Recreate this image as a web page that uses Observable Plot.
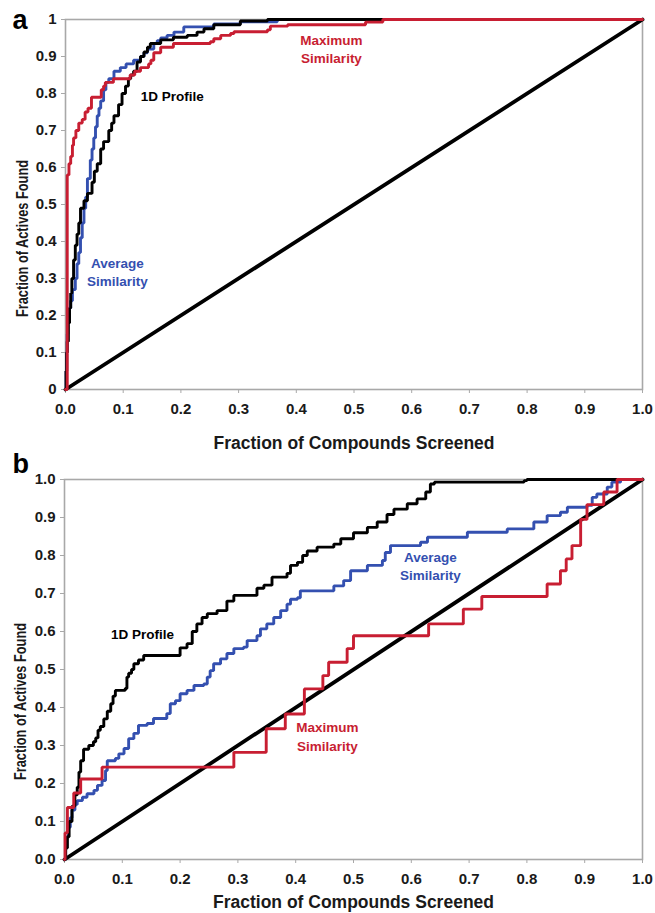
<!DOCTYPE html>
<html>
<head>
<meta charset="utf-8">
<script src="https://cdn.jsdelivr.net/npm/d3@7"></script>
<script src="https://cdn.jsdelivr.net/npm/@observablehq/plot@0.6"></script>
<style>
  html, body { margin: 0; padding: 0; background: #fff; }
  #chart > * { display: block; }
</style>
</head>
<body>
<div id="chart"></div>
<script>
// ---------- Tick values and labels ----------
const ticks = [0, 0.1, 0.2, 0.3, 0.4, 0.5, 0.6, 0.7, 0.8, 0.9, 1.0];
const xTickLabels = ["0.0","0.1","0.2","0.3","0.4","0.5","0.6","0.7","0.8","0.9","1.0"];
const yTickLabelsA = ["0","0.1","0.2","0.3","0.4","0.5","0.6","0.7","0.8","0.9","1"];
const yTickLabelsB = ["0.0","0.1","0.2","0.3","0.4","0.5","0.6","0.7","0.8","0.9","1.0"];

const xTitle = "Fraction of Compounds Screened";
const yTitle = "Fraction of Actives Found";
const seriesNames = ["1D Profile", "Average\nSimilarity", "Maximum\nSimilarity"];

// ---------- Random-selection diagonal ----------
const diagonal = [[0, 0], [1, 1]];

// ---------- Panel a (step curves: [fraction screened, fraction found]) ----------
const aProfile = [[0,0],[0.001,0.05],[0.002,0.1],[0.003,0.13],[0.005,0.18],[0.007,0.22],[0.009,0.26],[0.011,0.3],[0.014,0.35],[0.017,0.39],[0.02,0.42],[0.023,0.45],[0.026,0.49],[0.032,0.51],[0.038,0.53],[0.046,0.56],[0.05,0.59],[0.055,0.61],[0.061,0.65],[0.066,0.67],[0.075,0.70],[0.08,0.72],[0.084,0.74],[0.092,0.77],[0.098,0.80],[0.104,0.82],[0.109,0.84],[0.113,0.85],[0.118,0.86],[0.124,0.885],[0.13,0.9],[0.136,0.912],[0.142,0.925],[0.147,0.935],[0.165,0.945],[0.187,0.952],[0.211,0.957],[0.228,0.966],[0.24,0.975],[0.257,0.986],[0.303,0.996],[0.35,1.0],[0.97,1.0]];

const aAverage = [[0,0],[0.001,0.05],[0.002,0.1],[0.003,0.15],[0.004,0.2],[0.006,0.22],[0.009,0.24],[0.012,0.27],[0.017,0.30],[0.02,0.34],[0.023,0.37],[0.026,0.41],[0.029,0.45],[0.032,0.49],[0.035,0.52],[0.038,0.57],[0.043,0.62],[0.046,0.65],[0.049,0.68],[0.052,0.71],[0.055,0.74],[0.058,0.76],[0.061,0.78],[0.066,0.81],[0.070,0.83],[0.075,0.84],[0.084,0.86],[0.095,0.87],[0.105,0.88],[0.118,0.89],[0.13,0.90],[0.136,0.91],[0.142,0.92],[0.153,0.935],[0.159,0.943],[0.165,0.95],[0.176,0.957],[0.188,0.966],[0.205,0.98],[0.257,0.988],[0.303,0.994],[0.367,1.0],[0.97,1.0]];

const aMaximum = [[0,0],[0.003,0.58],[0.006,0.61],[0.009,0.63],[0.012,0.66],[0.014,0.68],[0.018,0.70],[0.023,0.72],[0.029,0.73],[0.034,0.75],[0.039,0.76],[0.045,0.79],[0.062,0.81],[0.066,0.82],[0.069,0.83],[0.083,0.84],[0.112,0.85],[0.12,0.86],[0.13,0.87],[0.144,0.88],[0.148,0.89],[0.153,0.91],[0.165,0.925],[0.187,0.935],[0.251,0.94],[0.257,0.948],[0.269,0.957],[0.286,0.962],[0.292,0.967],[0.35,0.972],[0.355,0.982],[0.385,0.986],[0.52,0.993],[0.55,1.0],[1.0,1.0]];

// ---------- Panel b ----------
const bProfile = [[0,0],[0.002,0.03],[0.005,0.06],[0.008,0.1],[0.013,0.14],[0.018,0.17],[0.022,0.19],[0.025,0.23],[0.028,0.26],[0.033,0.29],[0.042,0.30],[0.050,0.31],[0.054,0.32],[0.058,0.34],[0.062,0.35],[0.068,0.37],[0.074,0.39],[0.080,0.41],[0.084,0.43],[0.088,0.445],[0.105,0.45],[0.108,0.48],[0.111,0.49],[0.116,0.50],[0.12,0.515],[0.128,0.525],[0.137,0.537],[0.195,0.537],[0.2,0.557],[0.212,0.568],[0.221,0.60],[0.229,0.62],[0.238,0.637],[0.247,0.647],[0.264,0.655],[0.281,0.68],[0.293,0.695],[0.327,0.695],[0.333,0.714],[0.345,0.722],[0.359,0.743],[0.385,0.753],[0.391,0.774],[0.403,0.782],[0.412,0.80],[0.42,0.812],[0.437,0.822],[0.466,0.83],[0.478,0.844],[0.50,0.86],[0.524,0.874],[0.541,0.888],[0.558,0.908],[0.57,0.922],[0.593,0.936],[0.61,0.949],[0.625,0.967],[0.633,0.988],[0.64,0.993],[0.795,0.997],[0.80,1.0],[0.96,1.0]];

const bAverage = [[0,0],[0.002,0.03],[0.004,0.06],[0.007,0.085],[0.010,0.11],[0.013,0.13],[0.018,0.145],[0.022,0.155],[0.031,0.164],[0.039,0.173],[0.051,0.182],[0.057,0.195],[0.065,0.208],[0.071,0.234],[0.074,0.26],[0.088,0.266],[0.094,0.278],[0.103,0.292],[0.111,0.318],[0.12,0.332],[0.128,0.353],[0.143,0.358],[0.154,0.371],[0.177,0.384],[0.183,0.41],[0.192,0.418],[0.2,0.436],[0.212,0.445],[0.224,0.458],[0.241,0.462],[0.247,0.48],[0.252,0.497],[0.258,0.515],[0.27,0.528],[0.281,0.542],[0.293,0.555],[0.31,0.559],[0.316,0.576],[0.333,0.589],[0.339,0.607],[0.35,0.62],[0.362,0.637],[0.374,0.655],[0.385,0.672],[0.391,0.685],[0.403,0.689],[0.408,0.707],[0.466,0.72],[0.483,0.734],[0.495,0.76],[0.524,0.774],[0.55,0.787],[0.555,0.808],[0.564,0.826],[0.616,0.835],[0.628,0.848],[0.697,0.861],[0.766,0.87],[0.812,0.888],[0.835,0.905],[0.858,0.914],[0.87,0.927],[0.904,0.932],[0.913,0.953],[0.921,0.962],[0.939,0.98],[0.947,0.993],[0.962,1.0]];

const bMaximum = [[0,0],[0.001,0.07],[0.005,0.137],[0.016,0.175],[0.028,0.212],[0.065,0.243],[0.293,0.282],[0.349,0.344],[0.382,0.383],[0.415,0.449],[0.447,0.484],[0.457,0.519],[0.489,0.555],[0.50,0.589],[0.63,0.62],[0.69,0.659],[0.722,0.692],[0.835,0.725],[0.858,0.76],[0.868,0.791],[0.878,0.826],[0.893,0.895],[0.904,0.934],[0.933,0.967],[0.956,1.0],[1.0,1.0]];

const panelLetters = ["a", "b"];

// ---------- Styles ----------
const RED = "#c81e32";
const BLUE = "#3450b0";
const BLACK = "#000";
const FRAME = "#a8a8a8";
const FONT = "'Liberation Sans', Arial, Helvetica, sans-serif";

function panel(cfg) {
  const lineOpts = (stroke) => ({x: d => d[0], y: d => d[1], stroke, strokeWidth: 2.9, curve: "step-after", strokeLinejoin: "miter"});
  const labelOpts = {fontSize: 13.5, fontWeight: "bold", lineHeight: 1.35, textAnchor: "middle", lineAnchor: "middle"};
  const svg = Plot.plot({
    width: 655,
    height: cfg.height,
    marginLeft: cfg.marginLeft,
    marginRight: 13,
    marginTop: cfg.marginTop,
    marginBottom: cfg.marginBottom,
    style: {fontFamily: FONT, fontWeight: "bold", fontSize: "15px", color: "#1a1a1a", background: "#fff", overflow: "visible"},
    x: {domain: [0, 1], label: null},
    y: {domain: [0, 1], label: null},
    marks: [
      Plot.frame({stroke: FRAME, strokeWidth: 1.6}),
      Plot.axisX({ticks, tickFormat: (d, i) => xTickLabels[i], tickSize: 4, tickPadding: 10, stroke: FRAME, label: null}),
      Plot.axisY({ticks, tickFormat: (d, i) => cfg.yLabels[i], tickSize: 4, tickPadding: 5, stroke: FRAME, label: null}),
      Plot.line(diagonal, {x: d => d[0], y: d => d[1], stroke: BLACK, strokeWidth: 3.8}),
      Plot.line(cfg.average, lineOpts(BLUE)),
      Plot.line(cfg.profile, lineOpts(BLACK)),
      Plot.line(cfg.maximum, lineOpts(RED)),
      Plot.text([seriesNames[0]], {x: cfg.pos[0][0], y: cfg.pos[0][1], text: d => d, fill: BLACK, ...labelOpts}),
      Plot.text([seriesNames[1]], {x: cfg.pos[1][0], y: cfg.pos[1][1], text: d => d, fill: BLUE, ...labelOpts}),
      Plot.text([seriesNames[2]], {x: cfg.pos[2][0], y: cfg.pos[2][1], text: d => d, fill: RED, ...labelOpts}),
      Plot.text([xTitle], {frameAnchor: "bottom", dy: cfg.xTitleDy, lineAnchor: "middle", fontSize: 17.5, fontWeight: "bold", fill: "#1a1a1a"}),
      Plot.text([yTitle], {frameAnchor: "left", rotate: -90, dx: cfg.yTitleDx, dy: cfg.yTitleDy, lineAnchor: "middle", textAnchor: "middle", fontSize: 16, fontWeight: "bold", fill: "#1a1a1a"}),
      Plot.text([cfg.letter], {frameAnchor: "top-left", dx: cfg.letterDx, dy: cfg.letterDy, textAnchor: "start", lineAnchor: "bottom", fontSize: 27, fontWeight: "bold", fill: "#000"})
    ]
  });
  svg.querySelectorAll("text").forEach(t => {
    if (t.textContent === yTitle) {
      t.setAttribute("textLength", 157);
      t.setAttribute("lengthAdjust", "spacingAndGlyphs");
    }
  });
  return svg;
}

const chart = document.getElementById("chart");
chart.append(panel({
  height: 455, marginLeft: 65, marginTop: 19, marginBottom: 66,
  yLabels: yTickLabelsA,
  profile: aProfile, average: aAverage, maximum: aMaximum,
  pos: [[0.185, 0.795], [0.09, 0.32], [0.461, 0.922]],
  xTitleDy: 54, yTitleDx: -43, yTitleDy: 34,
  letter: panelLetters[0], letterDx: -53, letterDy: 9
}));
chart.append(panel({
  height: 458, marginLeft: 64, marginTop: 24, marginBottom: 54,
  yLabels: yTickLabelsB,
  profile: bProfile, average: bAverage, maximum: bMaximum,
  pos: [[0.135, 0.595], [0.633, 0.774], [0.455, 0.326]],
  xTitleDy: 43, yTitleDx: -44, yTitleDy: 32,
  letter: panelLetters[1], letterDx: -52, letterDy: -7
}));
</script>
</body>
</html>
